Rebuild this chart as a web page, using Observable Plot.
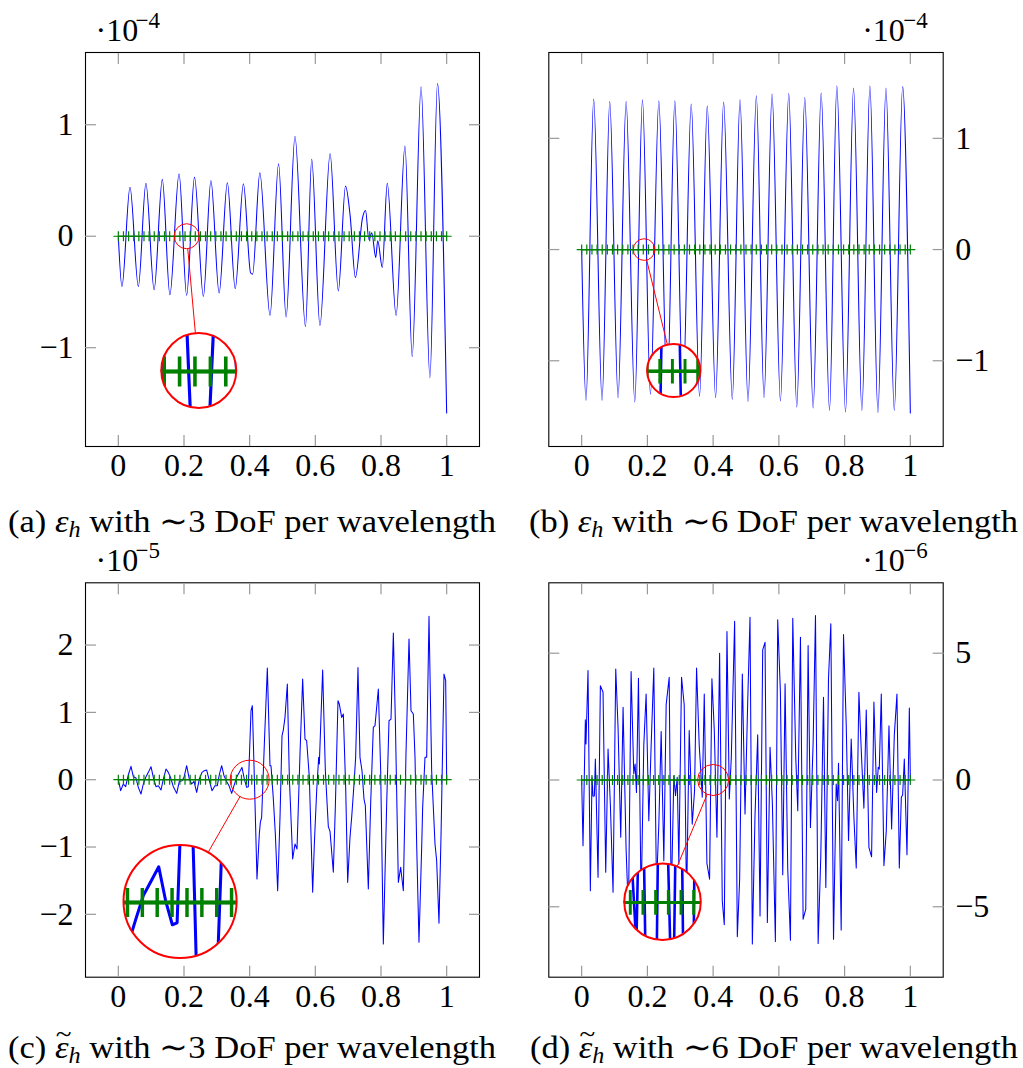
<!DOCTYPE html>
<html><head><meta charset="utf-8">
<script src="https://cdn.jsdelivr.net/npm/d3@7"></script>
<script src="https://cdn.jsdelivr.net/npm/@observablehq/plot@0.6"></script>
<style>
html,body{margin:0;padding:0;background:#fff;}
#root{position:relative;width:1023px;height:1068px;overflow:hidden;background:#fff;font-family:'Liberation Serif',serif;}
.panel{position:absolute;}
.cap{position:absolute;font-size:32px;white-space:nowrap;line-height:34px;color:#000;transform-origin:0 0;font-family:'Liberation Serif',serif;}
.cap i{font-style:italic;}
.cap sub{font-size:0.7em;vertical-align:-0.22em;line-height:0;}
.cap .eps{position:relative;font-style:italic;}
.cap .tld{position:absolute;left:0.03em;top:-8px;font-style:normal;font-size:27px;line-height:27px;}
</style></head><body><div id="root"></div>
<script>
// ---------- data ----------
const xTicks = [0, 0.2, 0.4, 0.6, 0.8, 1];
const yTicksA = [-1, 0, 1];
const yTicksB = [-1, 0, 1];
const yTicksC = [-2, -1, 0, 1, 2];
const yTicksD = [-5, 0, 5];

// mesh nodes (green markers)
const nodes = [0, .0156, .0313, .0469, .0625, .0781, .0938, .1094, .125, .1406, .1563, .1719, .1875, .2031, .2188, .2344, .25, .2656, .2813, .2969, .3125, .3281, .3438, .3594, .375, .3906, .4063, .4219, .4375, .4531, .4688, .4844, .5, .5156, .5313, .5469, .5625, .5781, .5938, .6094, .625, .6406, .6563, .6719, .6875, .7031, .7188, .7344, .75, .7656, .7813, .7969, .8125, .8281, .8438, .8594, .875, .8906, .9063, .9219, .9375, .9531, .9688, .9844, 1];

// (a) error, 3 DoF / wavelength  (×1e-4)
const aX = [0, 0.011, 0.0355, 0.061, 0.084, 0.109, 0.134, 0.157, 0.185, 0.208, 0.232, 0.259, 0.282, 0.307, 0.332, 0.356, 0.381, 0.403, 0.409, 0.431, 0.462, 0.488, 0.511, 0.538, 0.570, 0.589, 0.614, 0.645, 0.670, 0.692, 0.706, 0.722, 0.744, 0.753, 0.763, 0.772, 0.784, 0.790, 0.804, 0.819, 0.846, 0.873, 0.895, 0.922, 0.949, 0.972, 1.0];
const aY = [0, -0.45, 0.44, -0.45, 0.475, -0.48, 0.51, -0.525, 0.56, -0.53, 0.53, -0.54, 0.50, -0.51, 0.48, -0.47, 0.47, -0.33, -0.34, 0.57, -0.71, 0.65, -0.725, 0.895, -0.81, 0.69, -0.80, 0.74, -0.49, 0.45, 0.185, -0.37, 0.17, 0.23, -0.03, 0.03, -0.19, -0.04, -0.28, 0.475, -0.71, 0.81, -1.08, 1.34, -1.27, 1.37, -1.585];

// (b) error, 6 DoF / wavelength (×1e-4)
const bX = [0, 0.0132, 0.0366, 0.062, 0.0854, 0.1108, 0.1352, 0.1616, 0.185, 0.2093, 0.2348, 0.2602, 0.2835, 0.3079, 0.3333, 0.3587, 0.3821, 0.4075, 0.4319, 0.4583, 0.4817, 0.5061, 0.5315, 0.5549, 0.5793, 0.6047, 0.6301, 0.6545, 0.6789, 0.7043, 0.7287, 0.7541, 0.7764, 0.8028, 0.8272, 0.8526, 0.877, 0.9014, 0.9258, 0.9512, 0.9766, 1.0];
const bY = [0, -1.356, 1.353, -1.356, 1.332, -1.332, 1.332, -1.371, 1.347, -1.302, 1.338, -1.32, 1.338, -1.32, 1.308, -1.32, 1.29, -1.332, 1.326, -1.347, 1.347, -1.365, 1.383, -1.332, 1.398, -1.362, 1.404, -1.416, 1.368, -1.425, 1.407, -1.446, 1.473, -1.461, 1.452, -1.446, 1.473, -1.467, 1.452, -1.446, 1.467, -1.47];

// (c) modified error, 3 DoF / wavelength (×1e-5)
const cX = [0, 0.0071, 0.0152, 0.0223, 0.0305, 0.0386, 0.0457, 0.0538, 0.0609, 0.069, 0.0761, 0.0843, 0.0914, 0.0995, 0.1066, 0.1147, 0.1218, 0.13, 0.1371, 0.1452, 0.1523, 0.1594, 0.1675, 0.1777, 0.1858, 0.1939, 0.2, 0.2081, 0.2162, 0.2234, 0.2305, 0.2386, 0.2467, 0.2548, 0.2619, 0.269, 0.2772, 0.2853, 0.2944, 0.3015, 0.3076, 0.3147, 0.3218, 0.3299, 0.3371, 0.3452, 0.3523, 0.3604, 0.3685, 0.3766, 0.3838, 0.3909, 0.3959, 0.4041, 0.4081, 0.4142, 0.4223, 0.4294, 0.4325, 0.4365, 0.4447, 0.4538, 0.4619, 0.465, 0.4721, 0.4782, 0.4853, 0.4924, 0.4985, 0.5025, 0.5076, 0.5147, 0.5208, 0.531, 0.5381, 0.5442, 0.5533, 0.5614, 0.5685, 0.5736, 0.5817, 0.5919, 0.597, 0.6041, 0.6102, 0.6122, 0.6223, 0.6305, 0.6396, 0.6447, 0.6548, 0.6609, 0.669, 0.6731, 0.6802, 0.6853, 0.6924, 0.6985, 0.7056, 0.7107, 0.7178, 0.7228, 0.7299, 0.736, 0.7421, 0.7482, 0.7523, 0.7614, 0.7685, 0.7766, 0.7817, 0.7919, 0.799, 0.8071, 0.8173, 0.8244, 0.8305, 0.8376, 0.8437, 0.8528, 0.8599, 0.868, 0.8761, 0.8853, 0.8914, 0.8985, 0.9036, 0.9086, 0.9157, 0.9239, 0.9269, 0.934, 0.9391, 0.9462, 0.9543, 0.9645, 0.9695, 0.9766, 0.9827, 0.9919, 0.997, 1.0];
const cY = [0, -0.163, -0.064, -0.104, 0.074, 0.198, 0.045, 0.025, -0.114, -0.213, -0.064, 0.045, 0.109, 0.193, 0.035, -0.104, -0.089, -0.153, 0.01, 0.158, 0.109, 0.025, -0.104, -0.203, -0.025, -0.015, 0.035, 0.208, 0.01, -0.064, -0.025, -0.188, 0.01, 0.109, 0.134, 0.144, -0.015, -0.163, -0.089, -0.089, 0.074, 0.208, 0.059, -0.025, -0.089, -0.203, -0.089, 0.035, 0.109, 0.183, 0.01, -0.114, -0.104, 1.025, 1.099, 0.035, -1.475, -0.807, -0.634, -0.559, 0.53, 1.658, 0.208, 0.208, -0.287, -0.807, -1.649, -0.559, 0.653, 0.738, 0.926, 1.421, 0.035, -1.178, -0.955, -1.03, 0.381, 1.495, 0.604, 0.579, 0.035, -1.673, -0.955, -0.163, 0.332, 0.233, 1.629, 0.134, -0.698, -0.767, -1.376, -0.411, 1.173, 1.124, 0.926, 0.975, -0.114, -1.525, -0.856, -0.559, -0.064, 0.332, 1.668, 0.332, 0.134, -0.287, -0.386, -1.624, -0.361, 0.777, 0.802, 1.347, 0.134, -2.441, -0.361, 0.876, 0.901, 2.178, 0.876, -1.525, -1.302, -1.649, 0.381, 2.089, 1.025, 0.975, 0.332, -0.955, -2.416, -1.005, -0.411, 0.332, 0.332, 2.426, 0.134, -0.955, -1.203, -2.134, -0.856, 1.569, 1.47, 0.0];

// (d) modified error, 6 DoF / wavelength (×1e-6)
const dX = [0, 0.0041, 0.0112, 0.0132, 0.0193, 0.0264, 0.0315, 0.0346, 0.0386, 0.0417, 0.0498, 0.0569, 0.065, 0.0732, 0.0803, 0.0874, 0.0955, 0.1037, 0.1108, 0.1189, 0.126, 0.1352, 0.1423, 0.1504, 0.1585, 0.1626, 0.1667, 0.1728, 0.1809, 0.189, 0.1961, 0.2043, 0.2114, 0.2195, 0.2276, 0.2348, 0.2419, 0.25, 0.2571, 0.2663, 0.2724, 0.2805, 0.2856, 0.2907, 0.2957, 0.3039, 0.312, 0.3191, 0.3272, 0.3364, 0.3435, 0.3496, 0.3577, 0.3618, 0.3669, 0.373, 0.3811, 0.3892, 0.3963, 0.4035, 0.4116, 0.4197, 0.4278, 0.4339, 0.4421, 0.4492, 0.4553, 0.4654, 0.4736, 0.4807, 0.4888, 0.497, 0.5051, 0.5122, 0.5193, 0.5274, 0.5356, 0.5427, 0.5508, 0.5579, 0.565, 0.5732, 0.5803, 0.5894, 0.5965, 0.6047, 0.6118, 0.6189, 0.627, 0.6352, 0.6423, 0.6514, 0.6575, 0.6657, 0.6738, 0.6819, 0.689, 0.6961, 0.7043, 0.7114, 0.7195, 0.7276, 0.7358, 0.7429, 0.751, 0.7581, 0.7663, 0.7744, 0.7785, 0.7815, 0.7896, 0.7967, 0.8049, 0.812, 0.8201, 0.8283, 0.8354, 0.8435, 0.8516, 0.8587, 0.8659, 0.874, 0.8821, 0.8892, 0.8974, 0.9024, 0.9055, 0.9116, 0.9197, 0.9268, 0.935, 0.9431, 0.9512, 0.9593, 0.9665, 0.9726, 0.9766, 0.9817, 0.9898, 0.997, 1.0];
const dY = [0, -2.59, 2.37, 1.42, 4.32, -4.37, 0.11, -0.64, -0.63, 0.83, -3.84, 3.72, 3.46, -3.64, 1.22, -1.01, -4.43, 4.38, 2.04, -2.26, 2.87, -2.72, -5.29, 4.28, 0.24, 0.63, -0.49, 4.01, -4.89, 1.36, 3.39, -1.61, 1.36, 4.42, -4.24, -1.74, 1.91, -3.18, 2.97, 4.05, -4.89, 0.17, -0.62, 0.11, -3.32, 4.05, 2.96, -4.89, 1.95, -1.74, -0.42, 4.42, 1.36, 0.5, -0.68, 3.39, -3.29, -3.91, 3.99, 1.97, -2.26, 5.0, -4.76, -5.71, 5.86, -0.75, 0.89, 6.26, -6.18, -3.91, 4.18, -1.34, 3.03, 6.42, -6.47, -1.41, 1.78, -5.36, 5.13, 5.43, -5.62, 1.29, -0.95, -6.37, 6.32, 3.46, -3.74, 3.79, -3.51, -6.32, 6.38, 0.89, -1.21, 5.63, -5.49, -5.09, 5.3, -1.87, 1.49, 6.49, -6.45, -2.99, 3.26, -4.24, 3.99, 6.16, -6.28, -0.16, -0.82, 0.66, -5.92, 5.74, 2.21, -2.39, 1.62, -1.47, -3.47, 3.46, 0.89, -1.11, 2.76, -2.66, -3.03, 3.07, -0.49, 0.5, 0.43, 3.39, -3.38, -2.0, 2.14, -1.93, 1.75, 3.39, -3.47, -0.68, -0.59, 0.83, -2.95, 2.84, 0];

// magnifier ("spy") settings: spot (x,y), small radius px, magnification, big-circle centre (bx,by)
const spyA = {x: 0.208, y: 0, r: 12.5, mag: 3.0, bx: 0.245, by: -1.204};
const spyB = {x: 0.19, y: 0, r: 10.8, mag: 2.46, bx: 0.28, by: -1.088};
const spyC = {x: 0.40, y: 0, r: 19.5, mag: 2.9, bx: 0.188, by: -1.81};
const spyD = {x: 0.40, y: 0, r: 15.5, mag: 2.47, bx: 0.246, by: -4.80};

const exponents = ["\u22124", "\u22124", "\u22125", "\u22126"];

const captions = [
  '(a) <i>\u03b5</i><sub><i>h</i></sub> with \u223c3 DoF per wavelength',
  '(b) <i>\u03b5</i><sub><i>h</i></sub> with \u223c6 DoF per wavelength',
  '(c) <span class="eps">\u03b5<span class="tld">~</span></span><sub><i>h</i></sub> with \u223c3 DoF per wavelength',
  '(d) <span class="eps">\u03b5<span class="tld">~</span></span><sub><i>h</i></sub> with \u223c6 DoF per wavelength'
];

// ---------- drawing ----------
const BLUE = "#0000ff", GREEN = "#008000", TICK = "#999";
const xDomain = [-0.1, 1.1];
const FONT = "'Liberation Serif', serif";
const fmt = d => d < 0 ? "\u2212" + (-d) : String(d);
const plusSymbol = {draw(ctx, size) { const r = Math.sqrt(size / Math.PI); ctx.moveTo(-r, 0); ctx.lineTo(r, 0); ctx.moveTo(0, -r); ctx.lineTo(0, r); }};

const panels = [
  {id: "a", xs: aX, ys: aY, curve: "monotone-x", yDomain: [-1.886, 1.648], yTicks: yTicksA, side: "left", exp: exponents[0], spy: spyA, left: 0, top: 0, w: 510, h: 530, ml: 85, mt: 52, mr: 31, mb: 84},
  {id: "b", xs: bX, ys: bY, curve: "monotone-x", yDomain: [-1.771, 1.772], yTicks: yTicksB, side: "right", exp: exponents[1], spy: spyB, left: 510, top: 0, w: 513, h: 530, ml: 38.3, mt: 52, mr: 80.3, mb: 84},
  {id: "c", xs: cX, ys: cY, curve: "linear", yDomain: [-2.934, 2.925], yTicks: yTicksC, side: "left", exp: exponents[2], spy: spyC, left: 0, top: 530, w: 510, h: 538, ml: 85, mt: 52.3, mr: 31, mb: 91.3},
  {id: "d", xs: dX, ys: dY, curve: "linear", yDomain: [-7.778, 7.777], yTicks: yTicksD, side: "right", exp: exponents[3], spy: spyD, left: 510, top: 530, w: 513, h: 538, ml: 38.3, mt: 52.3, mr: 80.3, mb: 91.3}
];

const root = document.getElementById("root");
const ns = "http://www.w3.org/2000/svg";

for (const p of panels) {
  const pts = p.xs.map((x, i) => ({x, y: p.ys[i]}));
  const spy = [p.spy];
  const rBig = p.spy.r * p.spy.mag;
  const left = p.side === "left";
  const svg = Plot.plot({
    width: p.w, height: p.h,
    marginLeft: p.ml, marginTop: p.mt, marginRight: p.mr, marginBottom: p.mb,
    x: {domain: xDomain, label: null},
    y: {domain: p.yDomain, label: null},
    style: {fontFamily: FONT, fontSize: "32px", color: "black", background: "transparent", overflow: "visible"},
    marks: [
      Plot.line(pts, {x: "x", y: "y", stroke: BLUE, strokeWidth: 1.05, curve: p.curve, ariaDescription: "magnify"}),
      Plot.line(nodes, {x: d => d, y: () => 0, stroke: GREEN, strokeWidth: 1.2, ariaDescription: "magnify"}),
      Plot.dot(nodes, {x: d => d, y: () => 0, symbol: plusSymbol, r: 5, stroke: GREEN, fill: "none", strokeWidth: 1.2, ariaDescription: "magnify"}),
      Plot.frame({stroke: "#000", strokeWidth: 1.1}),
      Plot.axisX({ticks: xTicks, anchor: "bottom", tickSize: -11, tickFormat: () => "", stroke: TICK, strokeWidth: 1.2, label: null}),
      Plot.axisX({ticks: xTicks, anchor: "top", tickSize: -11, tickFormat: () => "", stroke: TICK, strokeWidth: 1.2, label: null}),
      Plot.axisX({ticks: xTicks, anchor: "bottom", tickSize: 0, tickPadding: 7, tickFormat: fmt, fontSize: 32, label: null}),
      Plot.axisY({ticks: p.yTicks, anchor: "left", tickSize: -11, tickFormat: () => "", stroke: TICK, strokeWidth: 1.2, label: null}),
      Plot.axisY({ticks: p.yTicks, anchor: "right", tickSize: -11, tickFormat: () => "", stroke: TICK, strokeWidth: 1.2, label: null}),
      Plot.axisY({ticks: p.yTicks, anchor: p.side, tickSize: 0, tickPadding: 12, tickFormat: fmt, fontSize: 32, label: null}),
      Plot.dot(spy, {x: "x", y: "y", r: p.spy.r, stroke: "red", fill: "none", strokeWidth: 1}),
      Plot.arrow(spy, {x1: "x", y1: "y", x2: "bx", y2: "by", insetStart: p.spy.r, insetEnd: rBig, headLength: 0, stroke: "red", strokeWidth: 1}),
      Plot.dot(spy, {x: "bx", y: "by", r: rBig, fill: "white", stroke: "none", ariaDescription: "inset-bg"}),
      Plot.dot(spy, {x: "bx", y: "by", r: rBig, fill: "none", stroke: "red", strokeWidth: 2, ariaDescription: "inset-ring"}),
      Plot.text(["\u00b710"], {text: d => d, frameAnchor: left ? "top-left" : "top-right", dx: left ? 10 : -81, dy: -12, textAnchor: "start", lineAnchor: "bottom", fontSize: 32, fill: "black"}),
      Plot.text([p.exp], {text: d => d, frameAnchor: left ? "top-left" : "top-right", dx: left ? 50 : -40, dy: -25, textAnchor: "start", lineAnchor: "bottom", fontSize: 23, fill: "black"})
    ]
  });

  // magnified inset: clone the data marks, scale them around the spy point and clip to the circle
  const sx = svg.scale("x"), sy = svg.scale("y");
  const Sx = sx.apply(p.spy.x), Sy = sy.apply(p.spy.y);
  const Bx = sx.apply(p.spy.bx), By = sy.apply(p.spy.by);
  const defs = document.createElementNS(ns, "defs");
  const clip = document.createElementNS(ns, "clipPath");
  clip.setAttribute("id", "spyclip-" + p.id);
  const cc = document.createElementNS(ns, "circle");
  cc.setAttribute("cx", Sx); cc.setAttribute("cy", Sy); cc.setAttribute("r", p.spy.r);
  clip.appendChild(cc); defs.appendChild(clip);
  svg.insertBefore(defs, svg.firstChild);
  const outer = document.createElementNS(ns, "g");
  outer.setAttribute("transform", `translate(${Bx},${By}) scale(${p.spy.mag}) translate(${-Sx},${-Sy})`);
  const inner = document.createElementNS(ns, "g");
  inner.setAttribute("clip-path", `url(#spyclip-${p.id})`);
  svg.querySelectorAll('[aria-description="magnify"]').forEach(n => inner.appendChild(n.cloneNode(true)));
  outer.appendChild(inner);
  const ring = svg.querySelector('[aria-description="inset-ring"]');
  if (ring) ring.parentNode.insertBefore(outer, ring); else svg.appendChild(outer);

  svg.classList.add("panel");
  svg.style.left = p.left + "px";
  svg.style.top = p.top + "px";
  root.appendChild(svg);
}

// captions
const capPos = [
  {left: 8, width: 488, base: 532},
  {left: 529, width: 489, base: 532},
  {left: 8, width: 488, base: 1058},
  {left: 530, width: 488, base: 1058}
];
captions.forEach((html, i) => {
  const el = document.createElement("div");
  el.className = "cap";
  el.innerHTML = html + '<span class="bl" style="display:inline-block;width:0;height:0;vertical-align:baseline"></span>';
  el.style.left = capPos[i].left + "px";
  el.style.top = "0px";
  root.appendChild(el);
  const w = el.getBoundingClientRect().width;
  const bl = el.querySelector(".bl").getBoundingClientRect().top - el.getBoundingClientRect().top;
  el.style.top = (capPos[i].base - bl) + "px";
  el.style.transform = `scaleX(${capPos[i].width / w})`;
});
</script></body></html>
